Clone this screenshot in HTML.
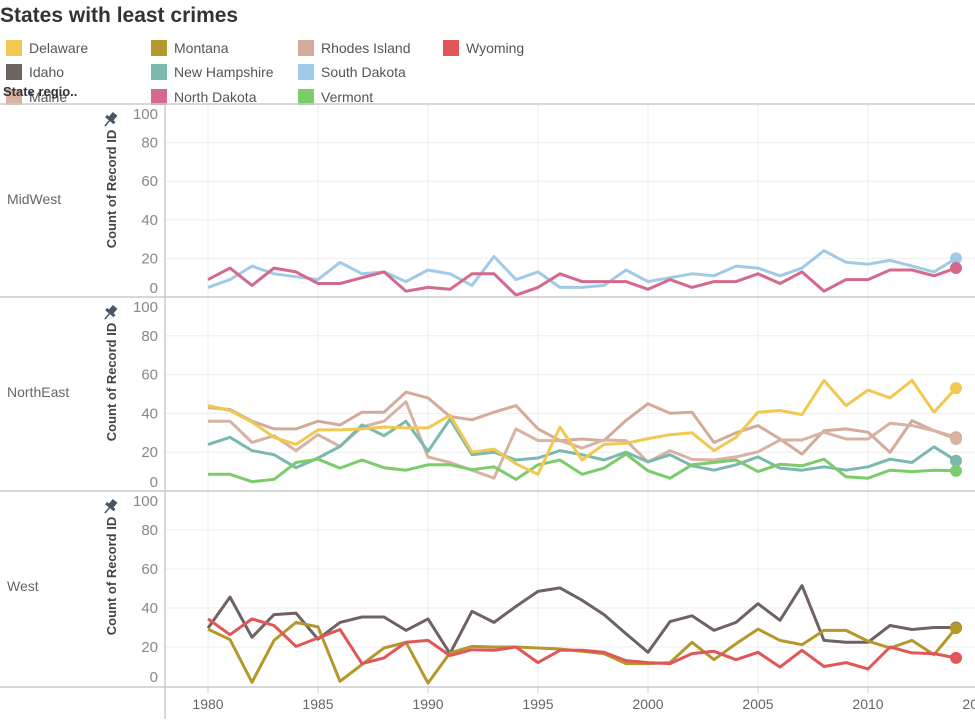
<!DOCTYPE html>
<html><head><meta charset="utf-8"><style>
body{margin:0;background:#fff;width:975px;height:719px;overflow:hidden;font-family:"Liberation Sans",sans-serif;}
svg text{font-family:"Liberation Sans",sans-serif;}
</style></head><body>
<svg id="chart" width="975" height="719" xmlns="http://www.w3.org/2000/svg">
<text x="0" y="22" font-size="21" font-weight="bold" fill="#333">States with least crimes</text>
<g id="legend"></g>
<g id="panels"></g>
</svg>
<script>
const years=[];for(let y=1980;y<=2014;y++)years.push(y);
const xTicks=[1980,1985,1990,1995,2000,2005,2010];
const yTicks=[0,20,40,60,80,100];
const regions=["MidWest","NorthEast","West"];
const states=["Delaware","Idaho","Maine","Montana","New Hampshire","North Dakota","Rhodes Island","South Dakota","Vermont","Wyoming"];
const colors=["#f1c850","#6f6361","#d7b3a3","#b5982a","#7ab8b0","#d4698d","#d4ab9a","#a0cbe8","#7ccc6c","#e15759"];
const southDakota=[5,9,16,12,10.5,9,18,12,13,8,14,12,6,21,9,13,5,5,6,14,8,10,12,11,16,15,11,15,24,18,17,19,16,13,20];
const northDakota=[9,15,6,15,13,7,7,10,13,3,5,4,12,12,1,5,12,8,8,8,4,9,5,8,8,12,7,13,3,9,9,14,14,11,15];
const delaware=[44,41.5,35.5,27.7,24,31.5,31.5,32,33,32.5,32.5,39,20,21.6,14,8.6,33,16,24,24.6,27,29,30,20.8,27.7,40.6,41.5,39.4,57,44,52,48,57,40.6,53];
const newHampshire=[24,27.7,20.8,18.7,12,17,23,34,28.5,36,20.4,37,18.7,20,16,17,20.8,18.7,16,20,15,18.7,13,10.7,13.5,17.6,11.8,10.7,12.5,10.7,12.5,16.4,14.7,22.8,15.6];
const vermont=[8.6,8.6,4.8,6,14.7,16.4,11.8,16,12,10.7,13.5,13.5,11,12.5,6,13.5,16,8.6,11.8,19,10.4,6.6,13.5,14.7,16,10,13.8,13,16.4,7.3,6.6,10.7,10,10.7,10.4];
const rhodesIsland=[43,42,36,32,32,36,34,40.6,40.6,51,48,38.4,36.7,40.6,44,32,26,26.8,26,36.4,45,40.1,40.6,25,30,33.7,26.8,19,31.1,32,30.3,19.9,36.3,31.1,27.7];
const maine=[36,36,25,28.5,20.8,29,23,33,36,46,17.6,14.7,10.7,6.6,32,26,26,22.1,26.3,26,15,20.8,16.3,16,17.6,20.2,26.3,26.3,30.3,26.8,26.8,34.9,33.7,31.1,26.8];
const idaho=[29.7,45.6,25,36.6,37.4,24,32.6,35.4,35.4,28.5,34.4,16.6,38.3,32.6,40.8,48.5,50.3,44,36.6,26.8,17.3,33,36,28.5,32.6,42.2,33.7,51.5,23.4,22.4,22.4,31,29,30,30];
const wyoming=[34.4,26.3,34.4,31,20.3,24.6,29,11.5,14.4,22.4,23.4,15.6,18.6,18.3,20,12,18.3,18.3,17.3,13,12,11.5,16.6,17.8,13.5,17.3,9.7,18.3,10,12,8.7,20,17,16.6,14.4];
const montana=[29.2,23.8,1.9,23.4,32.6,30.3,2.4,11,19.5,22.4,1.5,17,20.3,20,20,19.5,19,17.8,16.6,11.5,11.5,12,22.4,13.5,21.7,29.2,23.4,21.2,28.5,28.5,23,19.5,23.4,16,29.7];
const panelSeries=[
 [["South Dakota",southDakota],["North Dakota",northDakota]],
 [["Rhodes Island",rhodesIsland],["Maine",maine],["New Hampshire",newHampshire],["Vermont",vermont],["Delaware",delaware]],
 [["Idaho",idaho],["Montana",montana],["Wyoming",wyoming]]
];
const NS="http://www.w3.org/2000/svg";
const svg=document.getElementById('chart');
function mk(tag,attrs,parent){const e=document.createElementNS(NS,tag);for(const k in attrs)e.setAttribute(k,attrs[k]);(parent||svg).appendChild(e);return e;}
const panelTop=[104,297,491], panelH=[193,194,195];
const xScale=y=>208+(y-1980)*22;
function colorOf(s){return colors[states.indexOf(s)];}
// legend
const lg=document.getElementById('legend');
const colX=[6,151,298,443];const rowY=[48,72,97];
states.forEach((s,i)=>{
 let c=Math.floor(i/3), r=i%3; if(i==9){c=3;r=0;}
 const g=mk('g',{},lg);
 
 
 mk('rect',{x:colX[c],y:rowY[r]-8,width:16,height:16,fill:colors[i]},g);
 const t=mk('text',{x:colX[c]+23,y:rowY[r]+5,'font-size':14,fill:'#555'},g);t.textContent=s;
});
const sr=mk('text',{x:3,y:96,'font-size':13,fill:'#333','font-weight':'bold'});sr.textContent='State regio..';


// panels
const pg=document.getElementById('panels');
regions.forEach((rg,p)=>{
 const top=panelTop[p],h=panelH[p],bottom=top+h;
 const yS=v=>bottom-v*h/100;
 const g=mk('g',{},pg);
 
 
 xTicks.forEach(t=>mk('line',{x1:xScale(t),x2:xScale(t),y1:top,y2:bottom,stroke:'#eee','stroke-width':1},g));
 yTicks.forEach(t=>{if(t>0&&t<100)mk('line',{x1:165,x2:975,y1:yS(t),y2:yS(t),stroke:'#eee','stroke-width':1},g);
  let ly=yS(t)+5; if(t==100)ly=top+15; if(t==0)ly=bottom-4;
  const tl=mk('text',{x:158,y:ly,'font-size':15,fill:'#888','text-anchor':'end'},g);tl.textContent=t;
  
  });
 mk('line',{x1:0,x2:975,y1:top,y2:top,stroke:'#ccc','stroke-width':1.5},g);
 const rl=mk('text',{x:7,y:top+100,'font-size':14,fill:'#666'},g);rl.textContent=rg;
 
 
 const at=mk('text',{transform:`translate(116,${top+85}) rotate(-90)`,'font-size':13,'font-weight':'bold',fill:'#444','text-anchor':'middle'},g);at.textContent='Count of Record ID';
 
 
 const pin=mk('g',{transform:`translate(110,${top+16}) rotate(40)`},g);
 
 
 mk('rect',{x:-3,y:-8,width:6,height:7,fill:'#4a5566'},pin);
 mk('rect',{x:-5.5,y:-2,width:11,height:3,fill:'#4a5566'},pin);
 mk('line',{x1:0,y1:1,x2:0,y2:8,stroke:'#4a5566','stroke-width':1.5},pin);
 panelSeries[p].forEach(([name,vals])=>{
  const d=vals.map((v,i)=>(i?'L':'M')+xScale(years[i]).toFixed(1)+','+yS(v).toFixed(1)).join(' ');
  const pl=mk('path',{d:d,fill:'none',stroke:colorOf(name),'stroke-width':3,'stroke-linejoin':'round'},g);
  
  
  const dot=mk('circle',{cx:xScale(years[years.length-1]),cy:yS(vals[vals.length-1]),r:6,fill:colorOf(name)},g);
  
  
 });
});
mk('line',{x1:165,x2:165,y1:104,y2:719,stroke:'#ccc','stroke-width':1.5});
mk('line',{x1:0,x2:975,y1:687,y2:687,stroke:'#ccc','stroke-width':1.5});
xTicks.forEach(t=>{const tx=mk('text',{x:xScale(t),y:709,'font-size':14,fill:'#666','text-anchor':'middle'});tx.textContent=t;
 
 
 mk('line',{x1:xScale(t),x2:xScale(t),y1:687,y2:693,stroke:'#ccc'});});
const t20=mk('text',{x:xScale(2015),y:709,'font-size':14,fill:'#666','text-anchor':'middle'});t20.textContent='2015';


</script>
</body></html>
